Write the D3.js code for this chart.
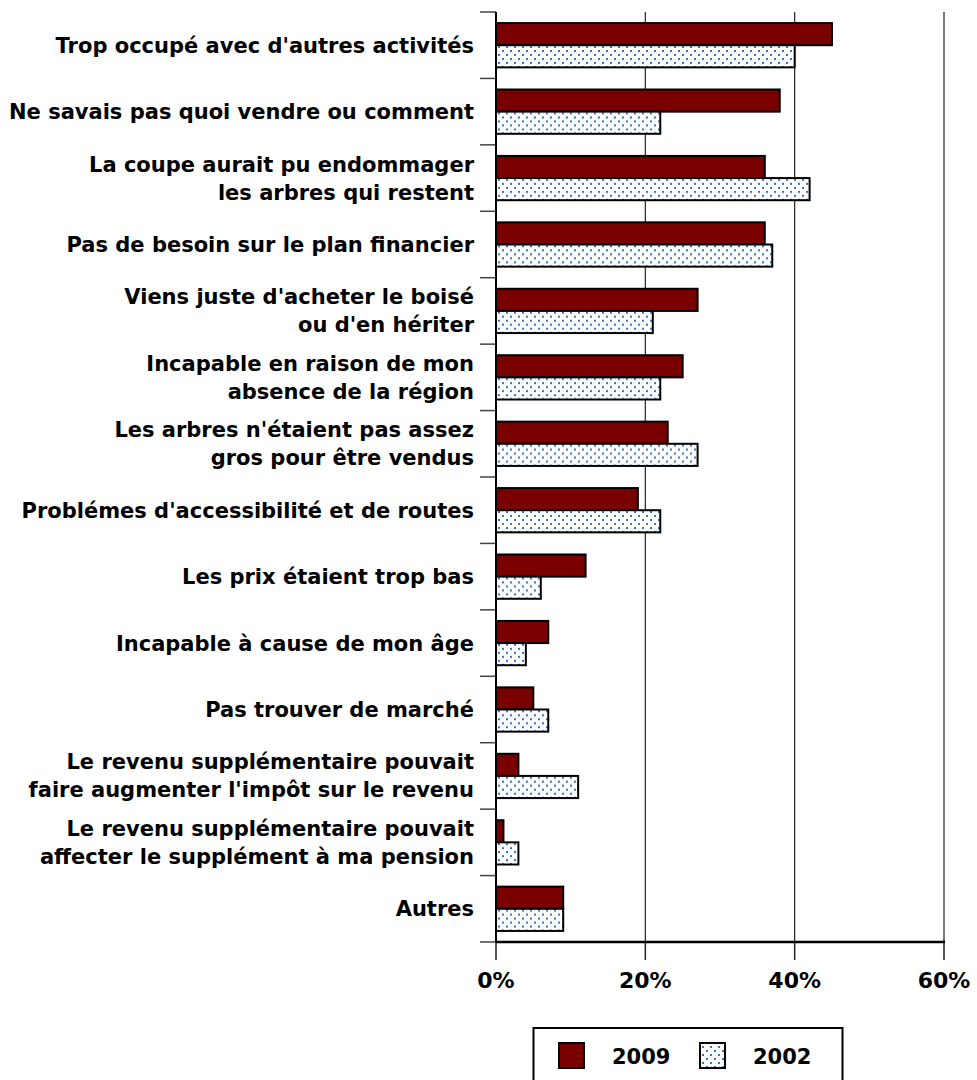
<!DOCTYPE html>
<html lang="fr">
<head>
<meta charset="UTF-8">
<title>Raisons de ne pas vendre</title>
<script src="https://cdnjs.cloudflare.com/ajax/libs/d3/7.8.5/d3.min.js"></script>
<style>
	body { margin: 0; background: #fff; }
	svg { display: block; font-family: "DejaVu Sans", Verdana, sans-serif; font-weight: bold; }
</style>
</head>
<body>
<svg id="viz"></svg>
<script>
// categories (each entry is the label lines)
const categories = [
	["Trop occupé avec d'autres activités"],
	["Ne savais pas quoi vendre ou comment"],
	["La coupe aurait pu endommager", "les arbres qui restent"],
	["Pas de besoin sur le plan financier"],
	["Viens juste d'acheter le boisé", "ou d'en hériter"],
	["Incapable en raison de mon", "absence de la région"],
	["Les arbres n'étaient pas assez", "gros pour être vendus"],
	["Problémes d'accessibilité et de routes"],
	["Les prix étaient trop bas"],
	["Incapable à cause de mon âge"],
	["Pas trouver de marché"],
	["Le revenu supplémentaire pouvait", "faire augmenter l'impôt sur le revenu"],
	["Le revenu supplémentaire pouvait", "affecter le supplément à ma pension"],
	["Autres"]
];
const series = ["2009", "2002"];
const values2009 = [45, 38, 36, 36, 27, 25, 23, 19, 12, 7, 5, 3, 1, 9];
const values2002 = [40, 22, 42, 37, 21, 22, 27, 22, 6, 4, 7, 11, 3, 9];
const xTicks = [0, 20, 40, 60];

const W = 977, H = 1080;
const plotL = 496, plotR = 944, plotT = 12, plotB = 942;

const svg = d3.select('#viz').attr('width', W).attr('height', H);

const defs = svg.append('defs');
const pat = defs.append('pattern')
	.attr('id', 'dots')
	.attr('patternUnits', 'userSpaceOnUse')
	.attr('width', 8).attr('height', 8)
	.attr('x', 2).attr('y', 2);
pat.append('rect').attr('width', 8).attr('height', 8).attr('fill', '#fff');
pat.append('rect').attr('x', 0).attr('y', 0).attr('width', 2).attr('height', 2).attr('fill', '#3b73c4');
pat.append('rect').attr('x', 4).attr('y', 4).attr('width', 2).attr('height', 2).attr('fill', '#3b73c4');

const fills = { "2009": '#7a0000', "2002": 'url(#dots)' };

const x = d3.scaleLinear().domain([0, 60]).range([plotL, plotR]);
const y0 = d3.scaleBand().domain(d3.range(categories.length)).range([plotT, plotB]);
const y1 = d3.scaleBand().domain(series).range([0, y0.bandwidth()]).paddingOuter(0.5);

// gridlines
svg.append('g')
	.selectAll('line')
	.data(xTicks.slice(1))
	.join('line')
	.attr('x1', d => x(d)).attr('x2', d => x(d))
	.attr('y1', plotT).attr('y2', plotB)
	.attr('stroke', '#222').attr('stroke-width', 1.2);

// bars
const rows = categories.map((c, i) => ({ i, vals: { "2009": values2009[i], "2002": values2002[i] } }));
const group = svg.append('g')
	.selectAll('g')
	.data(rows)
	.join('g')
	.attr('transform', d => `translate(0,${y0(d.i)})`);
group.selectAll('rect')
	.data(d => series.map(s => ({ s, v: d.vals[s] })))
	.join('rect')
	.attr('x', x(0))
	.attr('y', d => y1(d.s))
	.attr('width', d => x(d.v) - x(0))
	.attr('height', y1.bandwidth())
	.attr('fill', d => fills[d.s])
	.attr('stroke', '#000')
	.attr('stroke-width', 2);

// category ticks on the left
svg.append('g')
	.selectAll('line')
	.data(d3.range(categories.length + 1))
	.join('line')
	.attr('x1', plotL - 16).attr('x2', plotL)
	.attr('y1', d => plotT + d * y0.step()).attr('y2', d => plotT + d * y0.step())
	.attr('stroke', '#444').attr('stroke-width', 1.5);

// labels
const lab = svg.append('g')
	.selectAll('text')
	.data(categories)
	.join('text')
	.attr('text-anchor', 'end')
	.attr('font-size', 21)
	.attr('fill', '#000')
	.attr('transform', (d, i) => `translate(474,${y0(i) + y0.bandwidth() / 2})`);
lab.selectAll('tspan')
	.data(d => d.map((t, k) => ({ t, k, n: d.length })))
	.join('tspan')
	.attr('x', 0)
	.attr('y', d => (d.k - (d.n - 1) / 2) * 28)
	.attr('dy', '0.36em')
	.text(d => d.t);

// bottom axis ticks
svg.append('g')
	.selectAll('line')
	.data(xTicks)
	.join('line')
	.attr('x1', d => x(d)).attr('x2', d => x(d))
	.attr('y1', plotB).attr('y2', plotB + 18)
	.attr('stroke', '#222').attr('stroke-width', 1.5);
svg.append('g')
	.selectAll('text')
	.data(xTicks)
	.join('text')
	.attr('x', d => x(d))
	.attr('y', 980)
	.attr('dy', '0.36em')
	.attr('text-anchor', 'middle')
	.attr('font-size', 22)
	.text(d => d + '%');

// axis lines
svg.append('line')
	.attr('x1', plotL).attr('x2', plotL).attr('y1', plotT).attr('y2', plotB)
	.attr('stroke', '#000').attr('stroke-width', 2);
svg.append('line')
	.attr('x1', plotL).attr('x2', plotR + 1).attr('y1', plotB).attr('y2', plotB)
	.attr('stroke', '#000').attr('stroke-width', 2.5);

// legend
const leg = svg.append('g');
leg.append('rect')
	.attr('x', 533.5).attr('y', 1028).attr('width', 309).attr('height', 80)
	.attr('fill', '#fff').attr('stroke', '#000').attr('stroke-width', 2);
const legX = { "2009": 559, "2002": 700 };
series.forEach(s => {
	leg.append('rect')
		.attr('x', legX[s]).attr('y', 1043).attr('width', 25).attr('height', 25)
		.attr('fill', fills[s]).attr('stroke', '#000').attr('stroke-width', 2);
	leg.append('text')
		.attr('x', legX[s] + 53).attr('y', 1056)
		.attr('dy', '0.36em')
		.attr('font-size', 21)
		.text(s);
});
</script>
</body>
</html>
